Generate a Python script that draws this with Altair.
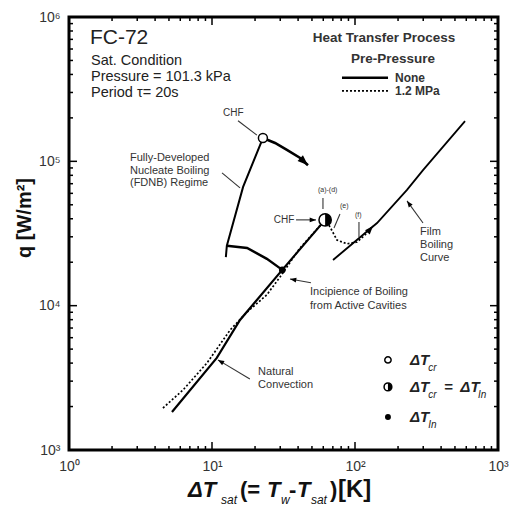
import math
import altair as alt
import pandas as pd

W, H = 429, 433
X_DEC, Y_DEC = W / 3.0, H / 3.0
FONT = "Liberation Sans"

# ---------------- data ----------------
# Pre-pressure "None": natural convection + nucleate boiling up to CHF
nb_T = [5.25, 10.8, 15.7, 31.0, 61.8]
nb_q = [1833, 4350, 7960, 17700, 39300]
# Pre-pressure "1.2 MPa" (dotted) incl. transition after CHF
pp_T = [4.54, 6.27, 9.23, 13.4, 17.6, 24.2, 29.9, 41.2, 55.1, 61.8, 66.9, 74.8, 87.9, 103.3, 117.5, 133.6]
pp_q = [1954, 2606, 4010, 6790, 9040, 11900, 15800, 25100, 34500, 39300, 35100, 28500, 26800, 27600, 30900, 35600]
# FDNB regime rise and link to incipience
fdnb_T = [12.5, 12.7, 16.5, 22.7]
fdnb_q = [21700, 26000, 66500, 145000]
link_T = [12.7, 17.6, 24.2, 31.0]
link_q = [26000, 25100, 21100, 17700]
# Film boiling curve
film_T = [70.2, 142.6, 231, 299, 412, 588]
film_q = [20700, 37400, 63400, 87000, 126000, 190000]
# Curved arrow from CHF
chfpath_T = [22.7, 27.6, 33.4, 41.1, 46.9]
chfpath_q = [145000, 134000, 120000, 106000, 94000]

# markers
chf_open_T, chf_open_q = [22.7], [145000]
chf_half_T, chf_half_q = [61.8], [39300]
inc_T, inc_q = [31.0], [17700]

# axis ticks
x_major = [1, 10, 100, 1000]
x_minor = [k * 10 ** d for d in range(3) for k in range(2, 10)]
y_major = [1e3, 1e4, 1e5, 1e6]
y_minor = [k * 10 ** d for d in range(3, 6) for k in range(2, 10)]

# ---------------- annotation positions (data units) ----------------
info_txt = ["FC-72", "Sat. Condition", "Pressure = 101.3 kPa", "Period τ= 20s"]
info_T = [1.40, 1.425, 1.425, 1.425]
info_q = [7.16e5, 4.97e5, 3.85e5, 2.98e5]
info_fs = [21, 14.5, 14.5, 14.5]

head_txt = ["Heat Transfer Process", "Pre-Pressure"]
head_T = [159.6, 184.4]
head_q = [7.16e5, 5.13e5]

leg_txt = ["None", "1.2 MPa"]
leg_T = [190.5, 190.5]
leg_q = [3.79e5, 3.08e5]
leg_line_T = [81.1, 170.2]

note_txt = ["CHF", "Fully-Developed", "Nucleate Boiling", "(FDNB) Regime", "CHF",
            "(a)-(d)", "(e)", "(f)", "Film", "Boiling", "Curve",
            "Incipience of Boiling", "from Active Cavities", "Natural", "Convection"]
note_T = [11.94, 2.67, 2.67, 2.67, 27.0, 55.1, 78.5, 100, 285, 285, 285, 48.5, 48.5, 21.0, 21.0]
note_q = [2.16e5, 1.06e5, 8.57e4, 7.08e4, 3.93e4, 6.34e4, 4.91e4, 4.26e4,
          3.24e4, 2.64e4, 2.14e4, 1.24e4, 9950, 3475, 2820]
note_fs = [10, 11, 11, 11, 10, 7, 7, 7, 11, 11, 11, 11, 11, 11, 11]

leaders = {
    "l_chf": ([15.2, 20.6], [1.91e5, 1.52e5]),
    "l_fdnb": ([11.75, 15.7], [8.31e4, 6.55e4]),
    "l_ad": ([59.7, 59.7], [5.57e4, 4.68e4]),
    "l_e": ([78.5, 71.3], [4.32e4, 3.45e4]),
    "l_f": ([106.6, 106.6], [3.80e4, 2.99e4]),
}
arrows = {
    "a_chf": ([38.7, 53.4], [3.93e4, 3.93e4]),
    "a_inc": ([49.2, 35.1], [1.44e4, 1.53e4]),
    "a_nc": ([18.4, 11.0], [3104, 4210]),
    "a_film": ([299, 231], [3.74e4, 5.32e4]),
}

# bottom-right marker legend
mk_T = [170, 170, 170]
mk_q = [4210, 2737, 1693]
mk_main_txt = ["ΔT", "ΔT", "=", "ΔT", "ΔT"]
mk_main_T = [242.6, 242.6, 420, 545, 242.6]
mk_main_q = [4210, 2737, 2737, 2737, 1693]
mk_sub_txt = ["cr", "cr", "In", "In"]
mk_sub_T = [325, 325, 725, 325]
mk_sub_q = [4210, 2737, 2737, 1693]

# x-axis title pieces
xt_main_txt = ["ΔT", "(=", "T", "-", "T", ")", "[K]"]
xt_main_T = [6.80, 15.7, 24.2, 34.5, 39.3, 66.9, 76.1]
xt_main_fs = [22, 22, 22, 22, 22, 22, 24]
xt_ital = [True, False, True, False, True, False, False]
xt_sub_txt = ["sat", "w", "sat"]
xt_sub_T = [11.56, 30.4, 49.2]

# ---------------- helpers ----------------
def path_df(name, T, q):
    return pd.DataFrame({"T": T, "q": q, "series": name, "ord": list(range(len(T)))})


def head_angle(T0, q0, T1, q1):
    dx = (math.log10(T1) - math.log10(T0)) * X_DEC
    dy = -(math.log10(q1) - math.log10(q0)) * Y_DEC
    return math.degrees(math.atan2(dy, dx)) % 360


xs = alt.Scale(type="log", domain=[1, 1000], nice=False)
ys = alt.Scale(type="log", domain=[1e3, 1e6], nice=False)
sup = "['⁰','¹','²','³','⁴','⁵','⁶'][round(log(datum.value)/LN10)]"
xaxis = alt.Axis(values=x_major, labelExpr="'10' + " + sup, ticks=False, domain=False, grid=False,
                 title=None, labelPadding=9, labelFontSize=14, labelColor="#333", labelFont=FONT,
                 labelFlush=False, labelOverlap=False)
yaxis = alt.Axis(values=y_major, labelExpr="'10' + " + sup, ticks=False, domain=False, grid=False,
                 title=None, labelPadding=9, labelFontSize=14, labelColor="#333", labelFont=FONT,
                 labelFlush=False, labelOverlap=False)
X = alt.X("T:Q", scale=xs, axis=xaxis)
Y = alt.Y("q:Q", scale=ys, axis=yaxis)

layers = []

# solid curves
solid = pd.concat([
    path_df("nb", nb_T, nb_q).assign(w=2.2),
    path_df("fdnb", fdnb_T, fdnb_q).assign(w=2.0),
    path_df("link", link_T, link_q).assign(w=2.4),
    path_df("film", film_T, film_q).assign(w=1.8),
    path_df("chfarrow", chfpath_T, chfpath_q).assign(w=2.6),
    path_df("leg_solid", leg_line_T, [leg_q[0]] * 2).assign(w=2.4),
])
layers.append(alt.Chart(solid).mark_line(color="black").encode(
    x=X, y=Y, detail="series:N", order="ord:Q", strokeWidth=alt.StrokeWidth("w:Q", scale=None)))

# dotted curves
dotted = pd.concat([
    path_df("pp", pp_T, pp_q),
    path_df("leg_dot", leg_line_T, [leg_q[1]] * 2),
])
layers.append(alt.Chart(dotted).mark_line(color="black", strokeDash=[2, 2], strokeWidth=1.7).encode(
    x=X, y=Y, detail="series:N", order="ord:Q"))

# leader lines and arrows
ll = pd.concat([path_df(k, v[0], v[1]) for k, v in list(leaders.items()) + list(arrows.items())])
layers.append(alt.Chart(ll).mark_line(color="#333", strokeWidth=1.1).encode(
    x=X, y=Y, detail="series:N", order="ord:Q"))

# arrowheads
heads = []
for k, (T, q) in arrows.items():
    heads.append({"T": T[1], "q": q[1], "ang": head_angle(T[0], q[0], T[1], q[1]), "s": 40})
heads.append({"T": chfpath_T[-1], "q": chfpath_q[-1],
              "ang": head_angle(chfpath_T[-2], chfpath_q[-2], chfpath_T[-1], chfpath_q[-1]), "s": 110})
heads.append({"T": pp_T[-1], "q": pp_q[-1],
              "ang": head_angle(pp_T[-2], pp_q[-2], pp_T[-1], pp_q[-1]), "s": 70})
hd = pd.DataFrame(heads)
layers.append(alt.Chart(hd).mark_point(shape="M0,0L-2,-0.75L-2,0.75Z", filled=True, color="black",
                                       opacity=1).encode(
    x=X, y=Y, angle=alt.Angle("ang:Q", scale=None), size=alt.Size("s:Q", scale=None)))

# markers on curves and in the marker legend
half_shape = "M0,-1A1,1,0,0,1,0,1Z"
mk_open = pd.DataFrame({"T": chf_open_T + [mk_T[0]], "q": chf_open_q + [mk_q[0]], "s": [80, 40]})
layers.append(alt.Chart(mk_open).mark_point(shape="circle", filled=True, fill="white", stroke="black",
                                            strokeWidth=1.5, opacity=1).encode(
    x=X, y=Y, size=alt.Size("s:Q", scale=None)))
mk_half = pd.DataFrame({"T": chf_half_T + [mk_T[1]], "q": chf_half_q + [mk_q[1]], "s": [150, 60]})
layers.append(alt.Chart(mk_half).mark_point(shape="circle", filled=True, fill="white", stroke="black",
                                            strokeWidth=1.5, opacity=1).encode(
    x=X, y=Y, size=alt.Size("s:Q", scale=None)))
layers.append(alt.Chart(mk_half).mark_point(shape=half_shape, filled=True, color="black", opacity=1).encode(
    x=X, y=Y, size=alt.Size("s:Q", scale=None)))
mk_fill = pd.DataFrame({"T": inc_T + [mk_T[2]], "q": inc_q + [mk_q[2]], "s": [45, 35]})
layers.append(alt.Chart(mk_fill).mark_point(shape="circle", filled=True, color="black", opacity=1).encode(
    x=X, y=Y, size=alt.Size("s:Q", scale=None)))

# texts
def text_layer(df, **kw):
    props = dict(align="left", baseline="middle", font=FONT, color="#222")
    props.update(kw)
    return alt.Chart(df).mark_text(**props).encode(
        x=X, y=Y, text="text:N", size=alt.Size("fs:Q", scale=None))

layers.append(text_layer(pd.DataFrame({"T": info_T, "q": info_q, "text": info_txt, "fs": info_fs})))
layers.append(text_layer(pd.DataFrame({"T": head_T, "q": head_q, "text": head_txt, "fs": 13.5}),
                         align="center", fontWeight="bold", color="#333"))
layers.append(text_layer(pd.DataFrame({"T": leg_T, "q": leg_q, "text": leg_txt, "fs": 12}),
                         fontWeight="bold", color="#333"))
layers.append(text_layer(pd.DataFrame({"T": note_T, "q": note_q, "text": note_txt, "fs": note_fs}),
                         color="#333"))
layers.append(text_layer(pd.DataFrame({"T": mk_main_T, "q": mk_main_q, "text": mk_main_txt, "fs": 15}),
                         fontWeight="bold", fontStyle="italic", color="#222"))
layers.append(text_layer(pd.DataFrame({"T": mk_sub_T, "q": mk_sub_q, "text": mk_sub_txt, "fs": 10}),
                         fontStyle="italic", color="#222", dy=8))

# x-axis title (pieces with subscripts)
xt = pd.DataFrame({"T": xt_main_T, "text": xt_main_txt, "fs": xt_main_fs, "it": xt_ital})
for it in (True, False):
    d = xt[xt["it"] == it]
    layers.append(alt.Chart(d).mark_text(align="left", baseline="middle", font=FONT, fontWeight="bold",
                                         fontStyle="italic" if it else "normal", color="#111").encode(
        x=X, y=alt.value(H + 40), text="text:N", size=alt.Size("fs:Q", scale=None)))
layers.append(alt.Chart(pd.DataFrame({"T": xt_sub_T, "text": xt_sub_txt})).mark_text(
    align="left", baseline="middle", font=FONT, fontStyle="italic", fontSize=12, color="#111").encode(
    x=X, y=alt.value(H + 50), text="text:N"))

# y-axis title
layers.append(alt.Chart(pd.DataFrame({"text": ["q [W/m²]"]})).mark_text(
    align="center", baseline="middle", font=FONT, fontWeight="bold", fontSize=20, angle=270,
    color="#111").encode(x=alt.value(-44), y=alt.value(201), text="text:N"))

# inward ticks on all four sides (lengths converted to data units), drawn last
tick_rows = []
for vals, L in ((x_major, 8), (x_minor, 4)):
    fy = 10 ** (L / Y_DEC)
    for v in vals:
        tick_rows.append({"T": v, "q": 1e3, "T2": v, "q2": 1e3 * fy})
        tick_rows.append({"T": v, "q": 1e6, "T2": v, "q2": 1e6 / fy})
for vals, L in ((y_major, 8), (y_minor, 4)):
    fx = 10 ** (L / X_DEC)
    for v in vals:
        tick_rows.append({"T": 1, "q": v, "T2": 1 * fx, "q2": v})
        tick_rows.append({"T": 1000, "q": v, "T2": 1000 / fx, "q2": v})
layers.append(alt.Chart(pd.DataFrame(tick_rows)).mark_rule(color="black", strokeWidth=1.5).encode(
    x=X, y=Y, x2="T2:Q", y2="q2:Q"))

chart = alt.layer(*layers).properties(
    width=W, height=H,
    background="white",
    autosize=alt.AutoSizeParams(type="none"),
    padding={"left": 69, "top": 17, "right": 13, "bottom": 57},
).configure_view(stroke="black", strokeWidth=3)

chart.save("out.html", embed_options={"renderer": "svg", "actions": False})
